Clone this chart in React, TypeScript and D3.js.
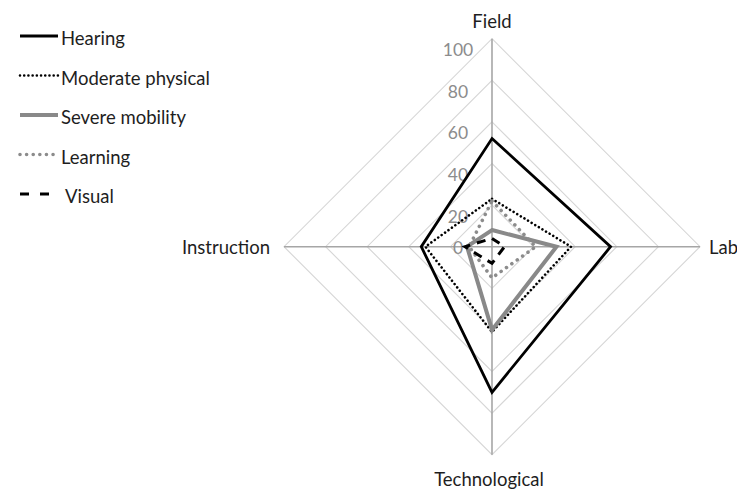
import * as d3 from "d3";

const categories = ["Field", "Lab", "Technological", "Instruction"];
const tickValues = [0, 20, 40, 60, 80, 100];
const gridValues = [20, 40, 60, 80, 100];

const seriesNames = ["Hearing", "Moderate physical", "Severe mobility", "Learning", "Visual"];
const hearing = [52, 57, 70, 34];
const moderatePhysical = [23, 38, 41, 32];
const severeMobility = [8, 31, 40, 12];
const learning = [22, 21, 15, 11];
const visual = [4, 6, 8, 13];

const W = 737;
const H = 489;
const CX = 492;
const CY = 246.7;
const RADIUS = 208;
const FONT = "Lato, 'Open Sans', sans-serif";

type LineStyle = {
  stroke: string;
  width: number;
  dash?: string;
  cap?: "round" | "butt";
  legendDash?: string;
};

const styles: LineStyle[] = [
  { stroke: "#000", width: 2.8 },
  { stroke: "#000", width: 2.6, dash: "0.01 4.2", cap: "round" },
  { stroke: "#898989", width: 4 },
  { stroke: "#8c8c8c", width: 3.6, dash: "0.01 6.6", cap: "round" },
  { stroke: "#000", width: 3, dash: "9 7", legendDash: "9 11" },
];

const seriesValues = [hearing, moderatePhysical, severeMobility, learning, visual];

export default function App() {
  const r = d3.scaleLinear().domain([0, 100]).range([0, RADIUS]);
  const angle = d3
    .scalePoint<string>()
    .domain(categories)
    .range([0, (2 * Math.PI * (categories.length - 1)) / categories.length]);

  const radial = d3
    .lineRadial<number>()
    .angle((_, i) => angle(categories[i]) ?? 0)
    .radius((d) => r(d))
    .curve(d3.curveLinearClosed);

  const point = (a: number, rad: number) => [Math.sin(a) * rad, -Math.cos(a) * rad];

  const labelPos: Record<string, { x: number; y: number; anchor: string }> = {
    Field: { x: 0, y: -RADIUS - 18, anchor: "middle" },
    Lab: { x: RADIUS + 9, y: 0, anchor: "start" },
    Technological: { x: -3, y: RADIUS + 24, anchor: "middle" },
    Instruction: { x: -RADIUS - 14, y: 0, anchor: "end" },
  };

  return (
    <div>
      <style>{`body{margin:0}`}</style>
      <svg width={W} height={H} style={{ display: "block", background: "#fff" }} fontFamily={FONT}>
        <g transform={`translate(${CX},${CY})`}>
          {/* grid rings */}
          {gridValues.map((v) => (
            <path
              key={v}
              d={radial(categories.map(() => v)) ?? ""}
              fill="none"
              stroke="#d6d6d6"
              strokeWidth={1.1}
            />
          ))}
          {/* spokes */}
          {categories.map((c) => {
            const [x, y] = point(angle(c) ?? 0, r(100));
            return <line key={c} x1={0} y1={0} x2={x} y2={y} stroke="#a6a6a6" strokeWidth={1.6} />;
          })}
          {/* value labels */}
          {tickValues.map((v) => (
            <text
              key={v}
              x={-34}
              y={-r(v) + (v === 0 ? 0.5 : 11)}
              textAnchor="middle"
              dominantBaseline="central"
              fontSize={17.5}
              fill="#8c8c8c"
            >
              {v}
            </text>
          ))}
          {/* category labels */}
          {categories.map((c) => (
            <text
              key={c}
              x={labelPos[c].x}
              y={labelPos[c].y}
              textAnchor={labelPos[c].anchor}
              dominantBaseline="central"
              fontSize={18.5}
              fill="#1e1e1e"
            >
              {c}
            </text>
          ))}
          {/* series */}
          {seriesValues.map((vals, i) => (
            <path
              key={seriesNames[i]}
              d={radial(vals) ?? ""}
              fill="none"
              stroke={styles[i].stroke}
              strokeWidth={styles[i].width}
              strokeDasharray={styles[i].dash}
              strokeLinecap={styles[i].cap ?? "butt"}
              strokeLinejoin="miter"
            />
          ))}
        </g>

        {/* legend */}
        <g>
          {seriesNames.map((name, i) => {
            const y = 36 + i * 39.5;
            const s = styles[i];
            return (
              <g key={name}>
                <line
                  x1={20}
                  x2={i === 4 ? 50 : 58}
                  y1={y}
                  y2={y}
                  stroke={s.stroke}
                  strokeWidth={s.width}
                  strokeDasharray={s.legendDash ?? s.dash}
                  strokeLinecap={s.cap ?? "butt"}
                />
                <text
                  x={i === 4 ? 65 : 61}
                  y={y + 2}
                  dominantBaseline="central"
                  fontSize={18.5}
                  fill="#1e1e1e"
                >
                  {name}
                </text>
              </g>
            );
          })}
        </g>
      </svg>
    </div>
  );
}
